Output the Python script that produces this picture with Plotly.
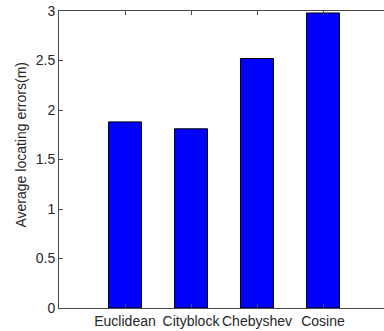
import plotly.graph_objects as go

categories = ["Euclidean", "Cityblock", "Chebyshev", "Cosine"]
errors = [1.88, 1.81, 2.52, 2.98]
positions = [1, 2, 3, 4]
y_ticks = [0, 0.5, 1, 1.5, 2, 2.5, 3]
y_tick_text = ["0", "0.5", "1", "1.5", "2", "2.5", "3"]

W, H = 384, 331
L, R, T, B = 59, 0, 11, 23
pw, ph = W - L - R, H - T - B

fig = go.Figure(go.Bar(
    x=positions, y=errors, width=0.5,
    marker=dict(color="#0000FF", line=dict(color="#000000", width=1)),
))

axis_col = "#4a4a4a"
font = dict(family="Liberation Sans, Arial, sans-serif", size=14, color="#262626")

fig.update_layout(
    width=W, height=H,
    margin=dict(l=L, r=R, t=T, b=B, pad=0),
    paper_bgcolor="white", plot_bgcolor="white",
    showlegend=False, font=font,
    xaxis=dict(
        range=[0, pw / 66.0], tickvals=positions, ticktext=categories,
        showgrid=False, zeroline=False, showline=True, linecolor=axis_col, linewidth=1,
        mirror="ticks", ticks="inside", ticklen=4, tickcolor=axis_col, tickfont=font,
    ),
    yaxis=dict(
        range=[0, 3], tickvals=y_ticks, ticktext=y_tick_text,
        showgrid=False, zeroline=False, showline=True, linecolor=axis_col, linewidth=1,
        ticks="inside", ticklen=4, tickcolor=axis_col, tickfont=font,
    ),
    annotations=[dict(
        text="Average locating errors(m)", xref="paper", yref="paper",
        x=(20 - L) / pw, y=(H - B - 145.5) / ph, xanchor="center", yanchor="middle",
        textangle=-90, showarrow=False, font=font,
    )],
)

fig.write_html(
    "out.html",
    config={"displayModeBar": False},
    post_script="document.body.style.margin='0';document.body.style.overflow='hidden';",
)
